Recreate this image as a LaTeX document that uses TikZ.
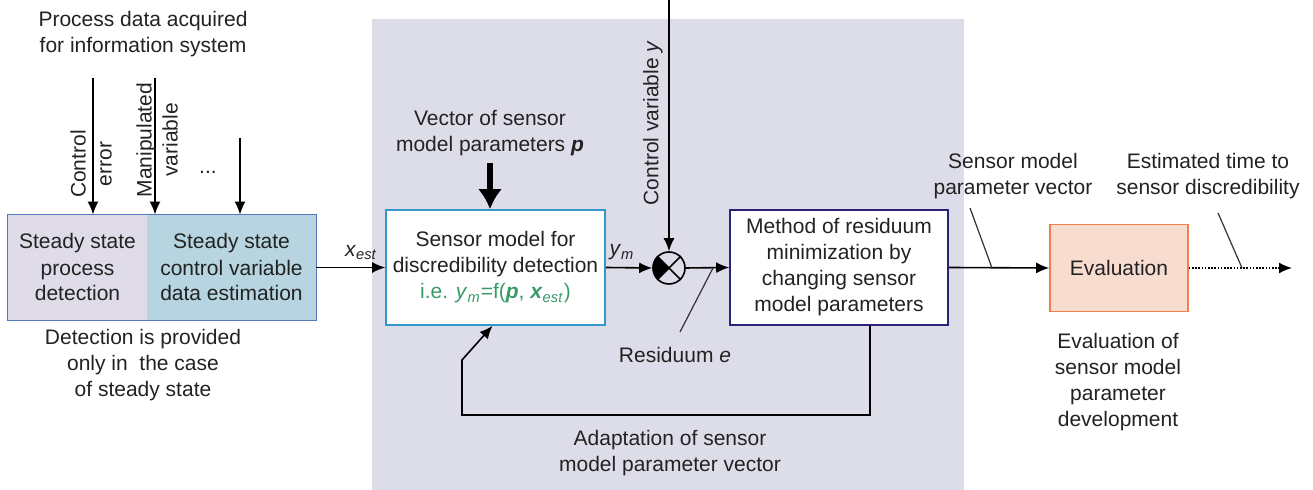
\documentclass[tikz,border=0pt]{standalone}
\usepackage{fontspec}
\setmainfont{Liberation Sans}
\usetikzlibrary{positioning,arrows.meta}

\definecolor{panelgray}{HTML}{DCDDE9}
\definecolor{steadyl}{HTML}{E0DBE9}
\definecolor{steadyr}{HTML}{B6D5E0}
\definecolor{steadyline}{HTML}{5577BB}
\definecolor{sensorblue}{HTML}{3399CC}
\definecolor{methodblue}{HTML}{2A2378}
\definecolor{evalorange}{HTML}{EE7F4F}
\definecolor{evalfill}{HTML}{F7DCCF}
\definecolor{formgreen}{HTML}{3A9A6A}
\definecolor{txt}{HTML}{222222}

\begin{document}
\begin{tikzpicture}[x=0.5pt, y=-0.5pt, >={Latex[length=6.5pt,width=5.5pt]}, node distance=6mm,
    font=\fontsize{10.5}{13}\selectfont, text=txt]
  \tikzstyle{box}=[rectangle, align=center, minimum height=57.5pt, inner sep=2pt]
  \tikzstyle{lbl}=[align=center]
  \tikzstyle{flow}=[->, thick]
  \tikzstyle{pointer}=[semithick, black!80]

  \useasboundingbox (0,0) rectangle (1313,490);
  \fill[panelgray] (372,19) rectangle (964,490);

  % data acquisition
  \node[lbl] (src) at (143,34) {Process data acquired\\for information system};
  \node[box, fill=steadyl, minimum width=69.5pt, minimum height=52.5pt] (sp) at (77.5,267.5) {Steady state\\process\\detection};
  \node[box, fill=steadyr, minimum width=84.5pt, minimum height=52.5pt] (se) at (231.5,267.5) {Steady state\\control variable\\data estimation};
  \draw[steadyline, thick] (sp.north west) rectangle (se.south east);
  \node[lbl] (det) at (143,365) {Detection is provided\\only in\ \ the case\\of steady state};

  \coordinate (in1) at (93,78);
  \coordinate (in2) at (155,78);
  \coordinate (in3) at (240,138);
  \draw[flow] (in1) -- (in1 |- sp.north);
  \draw[flow] (in2) -- (in2 |- sp.north);
  \draw[flow] (in3) -- (in3 |- se.north);
  \node[lbl, rotate=90] (ce) at (91,164) {Control\\error};
  \node[lbl, rotate=90] (mv) at (157,140) {Manipulated\\variable};
  \node (dots) at (208,172) {...};

  % sensor model
  \node[box, draw=sensorblue, thick, fill=white, minimum width=109.5pt] (sm) at (495.5,267.5)
    {Sensor model for\\discredibility detection\\\textcolor{formgreen}{i.e. \textit{y}\textsubscript{\textit{m}}=f(\textbf{\textit{p}}, \textbf{\textit{x}}\textsubscript{\textit{est}})}};
  \draw[flow] (se.east) -- node[above, pos=0.65] {\textit{x}\textsubscript{\textit{est}}} (sm.west);
  \node[lbl] (vp) at (490,133) {Vector of sensor\\model parameters \textbf{\textit{p}}};
  \draw[-{Latex[length=10pt,width=12pt]}, line width=2.8pt] (vp.south) -- (vp.south |- sm.north);

  % comparison
  \node[circle, draw, thick, minimum size=16pt, inner sep=0pt] (j) at (669,268) {};
  \fill (j.center) -- (j.135) arc[start angle=135, end angle=225, radius=8pt] -- cycle;
  \draw[thick] (j.45) -- (j.225) (j.135) -- (j.315);
  \draw[flow] (sm.east) -- node[above, pos=0.35] {\textit{y}\textsubscript{\textit{m}}} (j.west);
  \coordinate (ytop) at (669,0);
  \draw[flow] (ytop) -- (j.north);
  \node[lbl, rotate=90] (cv) at (653,123) {Control variable \textit{y}};

  % minimization
  \node[box, draw=methodblue, thick, fill=white, minimum width=109pt] (mm) at (839,267.5)
    {Method of residuum\\minimization by\\changing sensor\\model parameters};
  \draw[flow] (j.east) -- (mm.west);
  \coordinate (rtip) at (713,268);
  \coordinate (rfoot) at (680,332);
  \draw[pointer] (rfoot) -- (rtip);
  \node (res) at (675,355) {Residuum \textit{e}};

  % adaptation loop
  \coordinate (fbc) at (462,415);
  \coordinate (fb) at (462,360);
  \draw[flow] ([xshift=15.5pt]mm.south) |- (fbc) -- (fb) -- ([xshift=-1.5pt]sm.south);
  \node[lbl] (adapt) at (670,453) {Adaptation of sensor\\model parameter vector};

  % evaluation
  \node[box, draw=evalorange, thick, fill=evalfill, minimum width=69pt, minimum height=43.5pt] (ev) at (1119,268) {Evaluation};
  \draw[flow] (mm.east) -- (ev.west);
  \node[lbl] (pv) at (1013,176) {Sensor model\\parameter vector};
  \coordinate (pvtop) at (970,208);
  \coordinate (pvtip) at (992,268);
  \draw[pointer] (pvtop) -- (pvtip);
  \node[lbl] (evd) at (1118,382) {Evaluation of\\sensor model\\parameter\\development};

  \coordinate (out) at (1292,268);
  \draw[->, thick, dash pattern=on 0.8pt off 0.8pt] (ev.east) -- (out);
  \node[lbl] (tt) at (1208,176) {Estimated time to\\sensor discredibility};
  \coordinate (tttop) at (1218,213);
  \coordinate (tttip) at (1242,268);
  \draw[pointer] (tttop) -- (tttip);
\end{tikzpicture}
\end{document}
